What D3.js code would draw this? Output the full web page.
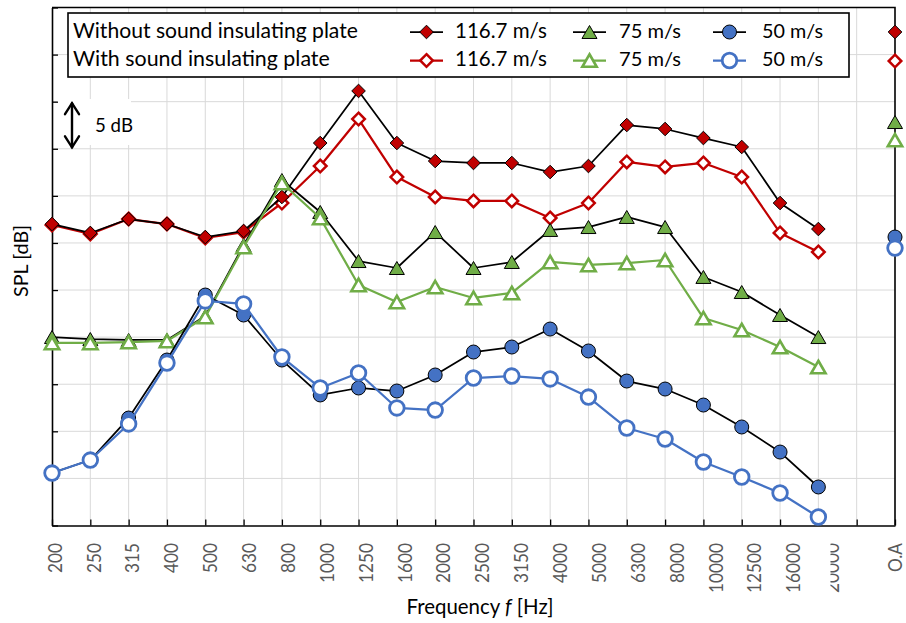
<!DOCTYPE html>
<html><head><meta charset="utf-8">
<script src="https://cdn.jsdelivr.net/npm/d3@7"></script>
<style>body{margin:0;background:#fff;} svg{display:block;font-family:Lato, "Open Sans", sans-serif;}</style>
</head><body>
<svg id="chart" width="906" height="623"></svg>
<script>
// ---------- data (relative SPL, dB) ----------
const freqLabels = ["200","250","315","400","500","630","800","1000","1250","1600","2000","2500","3150","4000","5000","6300","8000","10000","12500","16000","20000"];
const overallLabel = "O.A";
const axisCategories = [...freqLabels, "", overallLabel];
const yTickValues = [0,5,10,15,20,25,30,35,40,45,50,55];

const spl116Without = [32.01,31.06,32.54,32.01,30.63,31.27,34.88,40.61,46.14,40.61,38.70,38.49,38.49,37.53,38.17,42.52,42.10,41.14,40.19,34.24,31.48];
const spl116WithoutOA = 52.40;
const spl116With = [31.91,30.95,32.54,32.01,30.53,31.16,34.24,38.17,43.16,37.00,34.88,34.46,34.46,32.65,34.24,38.60,38.07,38.49,37.00,31.06,29.04];
const spl116WithOA = 49.32;
const spl75Without = [20.01,19.80,19.70,19.70,22.24,29.78,36.68,33.29,28.08,27.34,31.16,27.34,27.98,31.38,31.69,32.76,31.69,26.39,24.79,22.35,20.01];
const spl75WithoutOA = 42.84;
const spl75With = [19.38,19.38,19.48,19.59,22.14,29.57,36.37,32.65,25.54,23.73,25.32,24.16,24.69,27.98,27.66,27.87,28.19,22.03,20.76,18.95,16.83];
const spl75WithOA = 40.93;
const spl50Without = [5.57,6.95,11.41,17.57,24.47,22.35,17.57,13.86,14.60,14.28,15.98,18.42,18.95,20.86,18.53,15.34,14.49,12.79,10.46,7.80,4.09];
const spl50WithoutOA = 30.63;
const spl50With = [5.57,6.95,10.78,17.25,23.84,23.52,17.89,14.60,16.19,12.48,12.26,15.66,15.87,15.56,13.64,10.35,9.18,6.74,5.15,3.45,0.90];
const spl50WithOA = 29.46;

const legendHeaders = ["Without sound insulating plate","With sound insulating plate"];
const speedLabels = ["116.7 m/s","75 m/s","50 m/s"];

// ---------- styles ----------
const RED="#c00000", GREEN="#70ad47", BLUE="#4472c4";
const diamond = {draw(ctx,size){const r=Math.sqrt(size);ctx.moveTo(0,-r);ctx.lineTo(r,0);ctx.lineTo(0,r);ctx.lineTo(-r,0);ctx.closePath();}};
const triangle = {draw(ctx,size){const w=Math.sqrt(size),h=0.866*w;ctx.moveTo(0,-h);ctx.lineTo(w,h);ctx.lineTo(-w,h);ctx.closePath();}};
const circle = {draw(ctx,size){const r=Math.sqrt(size);ctx.moveTo(r,0);ctx.arc(0,0,r,0,2*Math.PI);ctx.closePath();}};

const series = [
  {vals:spl116With, oa:spl116WithOA, lineColor:RED, lineW:2.25, type:diamond, r:6.3, fill:"#fff", stroke:RED, sw:2.5, col:0,row:1},
  {vals:spl116Without, oa:spl116WithoutOA, lineColor:"#000", lineW:1.75, type:diamond, r:6.8, fill:RED, stroke:"#000", sw:1, col:0,row:0},
  {vals:spl75Without, oa:spl75WithoutOA, lineColor:"#000", lineW:1.75, type:triangle, r:7.5, fill:GREEN, stroke:"#000", sw:1, col:1,row:0},
  {vals:spl75With, oa:spl75WithOA, lineColor:GREEN, lineW:2.25, type:triangle, r:7.2, fill:"#fff", stroke:GREEN, sw:2.6, col:1,row:1},
  {vals:spl50Without, oa:spl50WithoutOA, lineColor:"#000", lineW:1.75, type:circle, r:7, fill:BLUE, stroke:"#000", sw:1, col:2,row:0},
  {vals:spl50With, oa:spl50WithOA, lineColor:BLUE, lineW:2.25, type:circle, r:7.3, fill:"#fff", stroke:BLUE, sw:2.8, col:2,row:1}
];

const svg = d3.select("#chart");
const L=52, R=895, T=7.5, B=525.5;
const x = d3.scalePoint().domain(axisCategories).range([L,R]);
const xLabel = d3.scalePoint().domain(freqLabels).range([54.5, 832]);
const y = d3.scaleLinear().domain([0,55]).range([B,T]);

// gridlines
const grid = svg.append("g").attr("stroke","#d9d9d9").attr("stroke-width",1);
grid.selectAll("line.v").data(axisCategories.slice(1,-1)).join("line")
  .attr("x1",d=>x(d)).attr("x2",d=>x(d)).attr("y1",T).attr("y2",B);
grid.selectAll("line.h").data(yTickValues.slice(1,-1)).join("line")
  .attr("x1",L).attr("x2",R).attr("y1",d=>y(d)).attr("y2",d=>y(d));

// 5 dB scale marker
svg.append("rect").attr("x",57).attr("y",99).attr("width",74).attr("height",46).attr("fill","#fff");
const arr = svg.append("g").attr("stroke","#000").attr("stroke-width",2.4).attr("fill","none").attr("stroke-linecap","round");
const aTop=y(45)+1.5, aBot=y(40)-1.5;
arr.append("line").attr("x1",72).attr("x2",72).attr("y1",aTop).attr("y2",aBot);
arr.append("path").attr("d",`M65,${aTop+11}L72,${aTop}L79,${aTop+11}`);
arr.append("path").attr("d",`M65,${aBot-11}L72,${aBot}L79,${aBot-11}`);

// fitting helper
function fit(sel, target){
  const w = sel.node().getComputedTextLength();
  const fs = parseFloat(sel.attr("font-size"));
  sel.attr("font-size", fs*target/w);
  return sel;
}
fit(svg.append("text").attr("x",95).attr("y",132).attr("font-size",16).attr("fill","#000").text("5 dB"),38);

// axes
const axB = svg.append("g").attr("transform",`translate(0,${B})`)
  .call(d3.axisBottom(x).tickSize(-6).tickSizeOuter(0).tickFormat(""));
const axL = svg.append("g").attr("transform",`translate(${L},0)`)
  .call(d3.axisLeft(y).tickValues(yTickValues).tickSize(-6).tickSizeOuter(0).tickFormat(""));
[axB,axL].forEach(a=>{a.select(".domain").attr("stroke","#000").attr("stroke-width",1.6);a.selectAll(".tick line").attr("stroke","#000").attr("stroke-width",1.3);});
// top & right border
svg.append("path").attr("d",`M${L},${T}H${R}V${B}`).attr("fill","none").attr("stroke","#000").attr("stroke-width",1.6);

// tick labels
const probe = svg.append("text").attr("font-size",16).text("1000");
const tickFs = 16*40/probe.node().getComputedTextLength();
probe.remove();
svg.append("defs").append("clipPath").attr("id","clip20k").append("rect").attr("x",830.5).attr("y",530).attr("width",30).attr("height",80);
const tl = svg.append("g");
tl.selectAll("g").data(freqLabels).join("g")
  .attr("clip-path",d=>d==="20000"?"url(#clip20k)":null)
  .append("text")
  .attr("transform",d=>`translate(${xLabel(d)},543) rotate(-90) scale(1,1.15)`)
  .attr("text-anchor","end").attr("dy","0.36em").attr("font-size",tickFs).attr("fill","#595959")
  .text(d=>d);
tl.append("text").attr("transform",`translate(${x(overallLabel)},543) rotate(-90) scale(1,1.15)`)
  .attr("text-anchor","end").attr("dy","0.36em").attr("font-size",tickFs).attr("fill","#595959").text(overallLabel);

// axis titles
const yt = svg.append("text").attr("transform","translate(21,261) rotate(-90)").attr("text-anchor","middle")
  .attr("dy","0.36em").attr("font-size",17).attr("fill","#000").text("SPL [dB]");
fit(yt,72);
const xt = svg.append("text").attr("x",480).attr("y",614).attr("text-anchor","middle").attr("font-size",18).attr("fill","#000");
xt.append("tspan").text("Frequency ");
xt.append("tspan").attr("font-style","italic").text("f");
xt.append("tspan").text(" [Hz]");
fit(xt,147);

// series
const line = d3.line().x((d,i)=>x(freqLabels[i])).y(d=>y(d));
const sym = s => d3.symbol().type(s.type).size(s.r*s.r)();
series.forEach(s=>{
  const g = svg.append("g");
  g.append("path").attr("d",line(s.vals)).attr("fill","none").attr("stroke",s.lineColor).attr("stroke-width",s.lineW).attr("stroke-linejoin","round");
  const pts = s.vals.map((v,i)=>({cx:x(freqLabels[i]),cy:y(v)})).concat([{cx:x(overallLabel),cy:y(s.oa)}]);
  g.selectAll("path.m").data(pts).join("path").attr("class","m")
    .attr("transform",d=>`translate(${d.cx},${d.cy})`).attr("d",sym(s))
    .attr("fill",s.fill).attr("stroke",s.stroke).attr("stroke-width",s.sw).attr("stroke-linejoin","miter");
});

// legend
const lg = svg.append("g");
lg.append("rect").attr("x",68).attr("y",13).attr("width",781).attr("height",64).attr("fill","#fff").attr("stroke","#000").attr("stroke-width",1.6);
const rowY=[32,60.5], baseY=[37.5,65.5];
fit(lg.append("text").attr("x",73).attr("y",baseY[0]).attr("font-size",18).text(legendHeaders[0]),285);
fit(lg.append("text").attr("x",73).attr("y",baseY[1]).attr("font-size",18).text(legendHeaders[1]),257);
const colLine=[[410,443],[573,606],[713,746]], colText=[455,619,762], colW=[92,62,61];
series.forEach(s=>{
  const [x1,x2]=colLine[s.col], yy=rowY[s.row];
  lg.append("line").attr("x1",x1).attr("x2",x2).attr("y1",yy).attr("y2",yy).attr("stroke",s.lineColor).attr("stroke-width",s.lineW);
  lg.append("path").attr("transform",`translate(${(x1+x2)/2},${yy})`).attr("d",sym(s))
    .attr("fill",s.fill).attr("stroke",s.stroke).attr("stroke-width",s.sw);
  fit(lg.append("text").attr("x",colText[s.col]).attr("y",baseY[s.row]).attr("font-size",18).text(speedLabels[s.col]),colW[s.col]);
});
</script>
</body></html>
